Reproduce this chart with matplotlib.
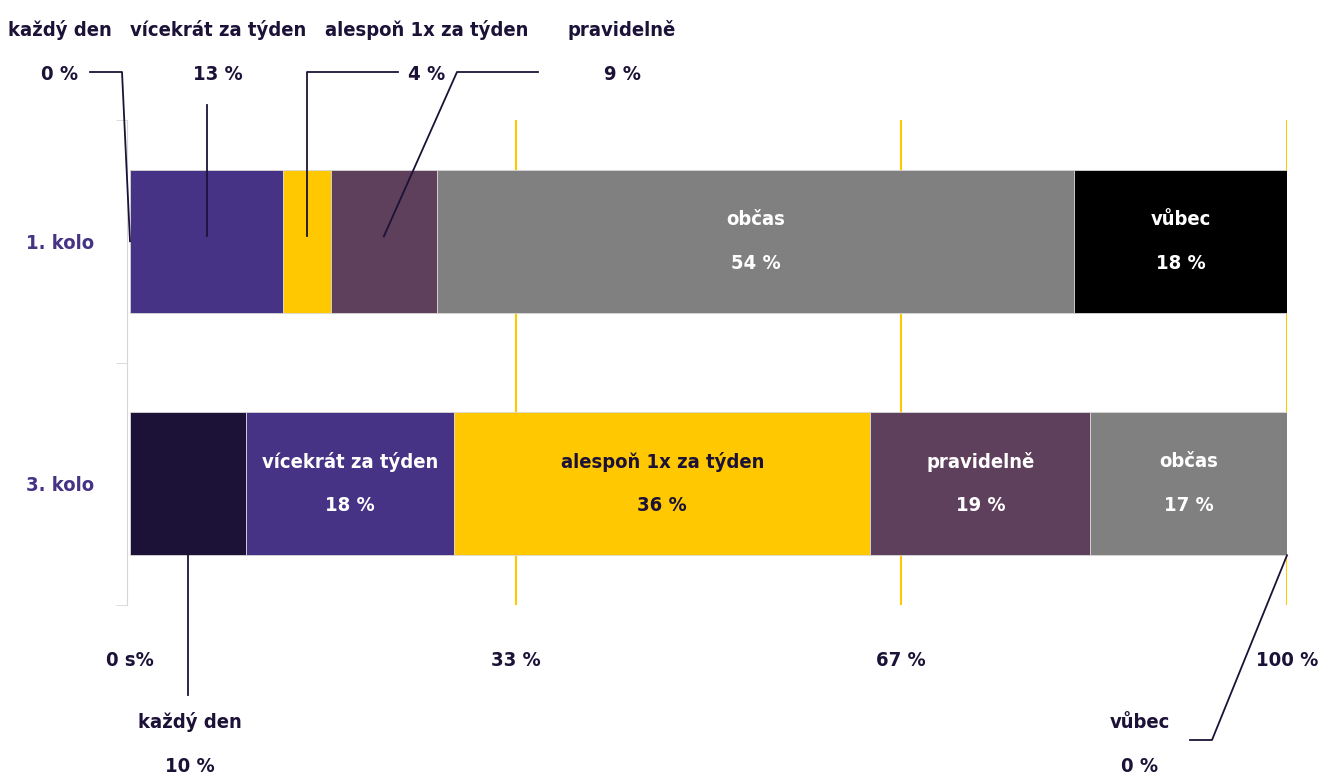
import numpy as np
import matplotlib
matplotlib.use('Agg')
from matplotlib import pyplot as plt

# data
rounds = ['1. kolo', '3. kolo']
categories = ['každý den', 'vícekrát za týden', 'alespoň 1x za týden', 'pravidelně', 'občas', 'vůbec']
kolo1 = [0, 13, 4, 9, 54, 18]
kolo3 = [10, 18, 36, 19, 17, 0]
xticks = [0, 33.33, 66.67, 100]
xticklabels = ['0 s%', '33 %', '67 %', '100 %']

colors = ['#1c1238', '#463385', '#ffc800', '#5e3f5c', '#808080', '#000000']
textcol = ['white', 'white', '#1c1238', 'white', 'white', 'white']
navy = '#1c1238'

plt.rcParams['font.family'] = ['DejaVu Sans']
plt.rcParams['font.stretch'] = 'condensed'
plt.rcParams['font.weight'] = 'bold'
FS = 14.5

W, H = 1322, 780
fig = plt.figure(figsize=(W / 100, H / 100), dpi=100)
ax = fig.add_axes([130 / W, 1 - 605 / H, 1157 / W, 485 / H])
ax.set_xlim(0, 100)
ax.set_ylim(0, 1)

for x in xticks[1:]:
    ax.axvline(x, color='#ffc800', lw=1.5, zorder=0)

ypos = [0.75, 0.25]
bh = 0.295
segs = {}
for r, vals in enumerate([kolo1, kolo3]):
    v = np.array(vals, dtype=float)
    w = v / v.sum() * 100
    left = np.concatenate([[0], np.cumsum(w)[:-1]])
    segs[r] = (left, w)
    ax.barh(ypos[r], w, left=left, height=bh, color=colors, edgecolor='#d8d8d8', linewidth=0.6, zorder=2)
    for i in range(len(vals)):
        if w[i] > 15:
            cx = left[i] + w[i] / 2
            ax.text(cx, ypos[r] + 0.045, categories[i], ha='center', va='center',
                    color=textcol[i], fontsize=FS, zorder=3)
            ax.text(cx, ypos[r] - 0.045, '%d %%' % vals[i], ha='center', va='center',
                    color=textcol[i], fontsize=FS, zorder=3)

# axes styling
for s in ['top', 'right', 'bottom']:
    ax.spines[s].set_visible(False)
ax.spines['left'].set_color('#d6d6d6')
ax.spines['left'].set_position(('outward', 2))
ax.set_yticks(ypos)
ax.set_yticklabels(rounds, color='#463385', fontsize=FS)
ax.set_yticks([0, 0.5, 1], minor=True)
ax.tick_params(axis='y', which='major', length=0, pad=24)
ax.tick_params(axis='y', which='minor', length=8, color='#d6d6d6')
ax.set_xticks(xticks)
ax.set_xticklabels(xticklabels, color=navy, fontsize=FS)
ax.tick_params(axis='x', length=0, pad=33)


def px(x, y):
    return (x - 130) / 11.57, 1 - (y - 120) / 485.0


def label(xp, yp, name, val):
    x, y = px(xp, yp)
    ax.text(x, y, name, ha='center', va='center', color=navy, fontsize=FS, clip_on=False)
    x, y = px(xp, yp + 44)
    ax.text(x, y, '%d %%' % val, ha='center', va='center', color=navy, fontsize=FS, clip_on=False)


def line(pts):
    xs, ys = zip(*pts)
    ax.plot(xs, ys, color=navy, lw=1.3, clip_on=False, zorder=4)


left1, w1 = segs[0]
c1 = left1 + w1 / 2
left3, w3 = segs[1]
c3 = left3 + w3 / 2

# row 1 callouts above
label(60, 30, categories[0], kolo1[0])
line([px(90, 72), px(122, 72), (c1[0], ypos[0])])
label(218, 30, categories[1], kolo1[1])
line([(c1[1], px(0, 105)[1]), (c1[1], ypos[0] + 0.01)])
label(427, 30, categories[2], kolo1[2])
line([px(398, 72), (c1[2], px(0, 72)[1]), (c1[2], ypos[0] + 0.01)])
label(622, 30, categories[3], kolo1[3])
line([px(538, 72), px(457, 72), (c1[3], ypos[0] + 0.01)])

# row 3 callouts below
label(190, 722, categories[0], kolo3[0])
line([(c3[0], ypos[1] - bh / 2), (c3[0], px(0, 695)[1])])
label(1140, 722, categories[5], kolo3[5])
line([px(1190, 740), px(1212, 740), (c3[5], ypos[1] - bh / 2)])

fig.savefig('out.png', dpi=100)
